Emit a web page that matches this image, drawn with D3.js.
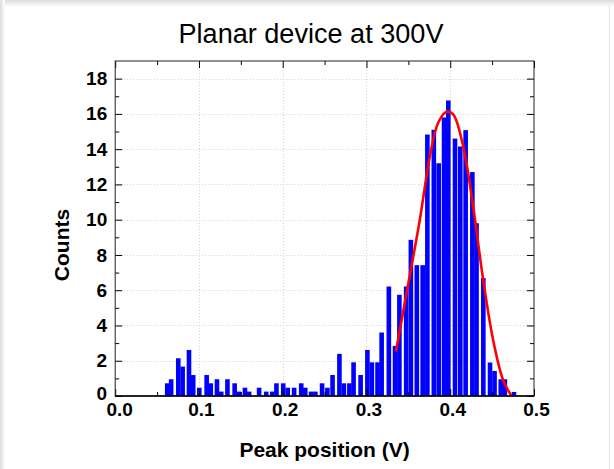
<!DOCTYPE html>
<html><head><meta charset="utf-8">
<script src="https://cdn.jsdelivr.net/npm/d3@7"></script>
<style>html,body{margin:0;padding:0;background:#fff}svg{display:block}</style>
</head><body>
<script>
// ---- data ----
const title = "Planar device at 300V";
const xLabel = "Peak position (V)";
const yLabel = "Counts";
const binCenters = [0.0621,0.0668,0.0753,0.0805,0.0881,0.0931,0.1004,0.1092,0.1141,0.1215,
  0.1266,0.1340,0.1426,0.1477,0.1549,0.1599,0.1718,0.1803,0.1875,0.1925,
  0.2006,0.2060,0.2136,0.2221,0.2269,0.2339,0.2390,0.2470,0.2533,0.2595,
  0.2677,0.2730,0.2796,0.2846,0.2930,0.3011,0.3064,0.3132,0.3181,0.3267,
  0.3341,0.3393,0.3474,0.3530,0.3601,0.3671,0.3727,0.3804,0.3862,0.3926,
  0.3977,0.4057,0.4120,0.4184,0.4264,0.4314,0.4395,0.4475,0.4529,0.4603,
  0.4652,0.4761];
const counts = [0.72,0.95,2.14,1.67,2.61,1.19,0.47,1.19,0.72,0.95,
  0.25,0.95,0.72,0.25,0.47,0.25,0.47,0.25,0.25,0.72,
  0.72,0.47,0.47,0.72,0.47,0.25,0.25,0.72,0.47,1.19,
  2.39,0.72,0.72,1.91,1.19,2.61,1.91,1.91,3.6,6.21,
  2.84,5.74,6.21,8.86,7.42,7.42,14.83,15.1,13.2,15.8,
  16.76,14.6,14.15,15.08,12.7,9.8,6.69,1.9,1.42,0.95,
  0.95,0.23];
const fitX = [0.3351,0.3478,0.3637,0.3757,0.3856,0.3956,0.4035,0.4154,0.4273,0.4393,0.4512,0.4631,0.4731];
const fitY = [2.52,5.83,10.0,13.6,15.5,16.12,15.97,14.17,10.76,6.6,3.18,0.9,0.0];
const xTicks = [0,0.1,0.2,0.3,0.4,0.5];
const xTickLabels = ["0.0","0.1","0.2","0.3","0.4","0.5"];
const xMinorTicks = [0.05,0.15,0.25,0.35,0.45];
const yTicks = [0,2,4,6,8,10,12,14,16,18];
const yMinorTicks = [1,3,5,7,9,11,13,15,17];
const binWidth = 0.0055;

// ---- layout ----
const W = 614, H = 469;
const P = {left:115.2, right:534, top:61, bottom:396};
const svg = d3.select("body").append("svg").attr("width",W).attr("height",H);

// subtle frame/shadow of the original picture
const defs = svg.append("defs");
const gT = defs.append("linearGradient").attr("id","gT").attr("x1",0).attr("y1",0).attr("x2",0).attr("y2",1);
gT.append("stop").attr("offset",0).attr("stop-color","#dcdcdc");
gT.append("stop").attr("offset",1).attr("stop-color","#ffffff");
const gL = defs.append("linearGradient").attr("id","gL").attr("x1",0).attr("y1",0).attr("x2",1).attr("y2",0);
gL.append("stop").attr("offset",0).attr("stop-color","#dcdcdc");
gL.append("stop").attr("offset",1).attr("stop-color","#ffffff");
svg.append("rect").attr("x",0).attr("y",0).attr("width",W).attr("height",7).attr("fill","url(#gT)");
svg.append("rect").attr("x",0).attr("y",0).attr("width",5).attr("height",H).attr("fill","url(#gL)");
svg.append("line").attr("x1",609.5).attr("x2",609.5).attr("y1",5).attr("y2",H).attr("stroke","#e4e4e4");

const x = d3.scaleLinear().domain([0,0.5]).range([P.left,P.right]);
const y = d3.scaleLinear().domain([0,19]).range([P.bottom,P.top]);

defs.append("clipPath").attr("id","clip").append("rect")
  .attr("x",P.left).attr("y",P.top).attr("width",P.right-P.left).attr("height",P.bottom-P.top);

// grid
const grid = svg.append("g").attr("stroke","#d4d4d4").attr("stroke-width",1).attr("stroke-dasharray","1,2");
grid.selectAll("line.vx").data(xTicks.slice(1,-1)).join("line")
  .attr("x1",d=>Math.round(x(d))+0.5).attr("x2",d=>Math.round(x(d))+0.5).attr("y1",P.top).attr("y2",P.bottom);
grid.selectAll("line.hy").data(yTicks.slice(1)).join("line")
  .attr("y1",d=>Math.round(y(d))+0.5).attr("y2",d=>Math.round(y(d))+0.5).attr("x1",P.left).attr("x2",P.right);

// bars
const bars = binCenters.map((c,i)=>({c, v:counts[i]}));
svg.append("g").attr("clip-path","url(#clip)").selectAll("rect").data(bars).join("rect")
  .attr("x",d=>x(d.c-binWidth/2))
  .attr("width",x(binWidth)-x(0))
  .attr("y",d=>y(d.v))
  .attr("height",d=>y(0)-y(d.v))
  .attr("fill","#0000ff");

// fit curve
const fit = fitX.map((fx,i)=>[fx,fitY[i]]);
svg.append("path").attr("clip-path","url(#clip)").datum(fit)
  .attr("d",d3.line().x(d=>x(d[0])).y(d=>y(d[1])).curve(d3.curveCatmullRom.alpha(0.5)))
  .attr("fill","none").attr("stroke","#ff0000").attr("stroke-width",2.6);

// axes
const font = "'Liberation Sans', Arial, sans-serif";
function styleAxis(g){
  g.select(".domain").remove();
  g.selectAll(".tick line").attr("stroke","#000").attr("stroke-width",1);
  g.selectAll("text").attr("font-family",font).attr("font-weight","bold").attr("font-size",19).attr("fill","#000");
}
const xb = svg.append("g").attr("transform",`translate(0,${P.bottom})`)
  .call(d3.axisBottom(x).tickValues(xTicks).tickFormat((d,i)=>xTickLabels[i]).tickSizeInner(-7).tickSizeOuter(0).tickPadding(7));
styleAxis(xb);
xb.selectAll(".tick text").attr("dx",(d,i)=>i===0?4:2);
const xbm = svg.append("g").attr("transform",`translate(0,${P.bottom})`)
  .call(d3.axisBottom(x).tickValues(xMinorTicks).tickFormat("").tickSizeInner(-4).tickSizeOuter(0));
styleAxis(xbm);
const xt = svg.append("g").attr("transform",`translate(0,${P.top})`)
  .call(d3.axisTop(x).tickValues(xTicks).tickFormat("").tickSizeInner(-7).tickSizeOuter(0));
styleAxis(xt);
const xtm = svg.append("g").attr("transform",`translate(0,${P.top})`)
  .call(d3.axisTop(x).tickValues(xMinorTicks).tickFormat("").tickSizeInner(-4).tickSizeOuter(0));
styleAxis(xtm);
const yl = svg.append("g").attr("transform",`translate(${P.left},0)`)
  .call(d3.axisLeft(y).tickValues(yTicks).tickFormat(d3.format("d")).tickSizeInner(-7).tickSizeOuter(0).tickPadding(8));
styleAxis(yl);
yl.selectAll(".tick text").attr("dy",(d)=>d===0?"0.2em":"0.32em");
const ylm = svg.append("g").attr("transform",`translate(${P.left},0)`)
  .call(d3.axisLeft(y).tickValues(yMinorTicks).tickFormat("").tickSizeInner(-4).tickSizeOuter(0));
styleAxis(ylm);
const yr = svg.append("g").attr("transform",`translate(${P.right},0)`)
  .call(d3.axisRight(y).tickValues(yTicks).tickFormat("").tickSizeInner(-7).tickSizeOuter(0));
styleAxis(yr);
const yrm = svg.append("g").attr("transform",`translate(${P.right},0)`)
  .call(d3.axisRight(y).tickValues(yMinorTicks).tickFormat("").tickSizeInner(-4).tickSizeOuter(0));
styleAxis(yrm);

// frame
svg.append("rect").attr("x",P.left).attr("y",P.top).attr("width",P.right-P.left).attr("height",P.bottom-P.top)
  .attr("fill","none").attr("stroke","#222").attr("stroke-width",1);
svg.append("line").attr("x1",P.left).attr("x2",P.right).attr("y1",P.bottom).attr("y2",P.bottom)
  .attr("stroke","#000").attr("stroke-width",1.6);

// labels
svg.append("text").attr("x",311).attr("y",43).attr("text-anchor","middle")
  .attr("font-family","'Liberation Sans Narrow', 'Liberation Sans', Arial, sans-serif").attr("font-size",27)
  .attr("textLength",265).attr("lengthAdjust","spacingAndGlyphs").attr("fill","#000").text(title);
svg.append("text").attr("x",(P.left+P.right)/2).attr("y",457).attr("text-anchor","middle")
  .attr("font-family",font).attr("font-weight","bold").attr("font-size",21).attr("fill","#000").text(xLabel);
svg.append("text").attr("transform",`translate(69,245) rotate(-90)`).attr("text-anchor","middle")
  .attr("font-family",font).attr("font-weight","bold").attr("font-size",21).attr("fill","#000").text(yLabel);
</script>
</body></html>
